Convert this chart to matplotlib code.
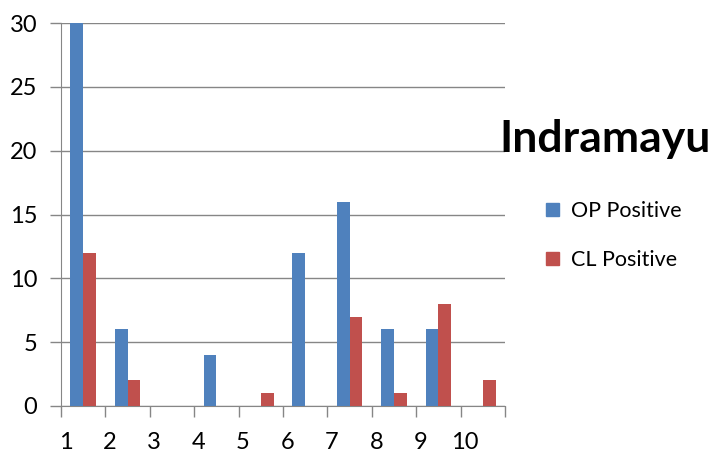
import numpy as np
import matplotlib
matplotlib.use("Agg")
from matplotlib import pyplot as plt
from matplotlib.patches import Patch

plt.rcParams['font.family'] = ['Lato', 'DejaVu Sans']

# 每个类别的阳性数
categories = ["1", "2", "3", "4", "5", "6", "7", "8", "9", "10"]
op_positive = [30, 6, 0, 4, 0, 12, 16, 6, 6, 0]
cl_positive = [12, 2, 0, 0, 1, 0, 7, 1, 8, 2]

blue = '#4F81BD'
red = '#C0504D'
grey = '#868686'

fig = plt.figure(figsize=(7.17, 4.55), dpi=100)
ax = fig.add_axes([61 / 717, 49 / 455, 444 / 717, 383 / 455])

x = np.arange(len(categories)) + 0.5
w = 0.29
ax.bar(x - w / 2, op_positive, w, color=blue, zorder=3)
ax.bar(x + w / 2, cl_positive, w, color=red, zorder=3)

ax.set_xlim(0, len(categories))
ax.set_ylim(0, 30)
ax.set_yticks(range(0, 31, 5))
ax.yaxis.grid(True, color=grey, lw=1, zorder=0)

# 刻度线在类别边界，标签略偏右
ax.set_xticks(range(len(categories) + 1))
ax.set_xticklabels([])
ax.set_xticks(np.arange(len(categories)) + 0.1, minor=True)
ax.set_xticklabels(categories, minor=True)
ax.tick_params(axis='x', which='minor', length=0, pad=19, labelsize=17)
ax.tick_params(axis='x', which='major', length=8, width=1, color=grey)
ax.tick_params(axis='y', length=8, width=1, color=grey, pad=9, labelsize=17)

for s in ['top', 'right']:
    ax.spines[s].set_visible(False)
for s in ['left', 'bottom']:
    ax.spines[s].set_color(grey)

fig.text(0.697, 0.695, "Indramayu", fontsize=32, fontweight='bold', va='center', ha='left')

handles = [Patch(color=blue), Patch(color=red)]
fig.legend(handles, ["OP Positive", "CL Positive"], loc='center left',
           bbox_to_anchor=(0.734, 0.482), frameon=False, fontsize=15.5,
           handlelength=0.6, handleheight=0.6, handletextpad=0.6, labelspacing=1.35)

fig.savefig("out.png", dpi=100)
